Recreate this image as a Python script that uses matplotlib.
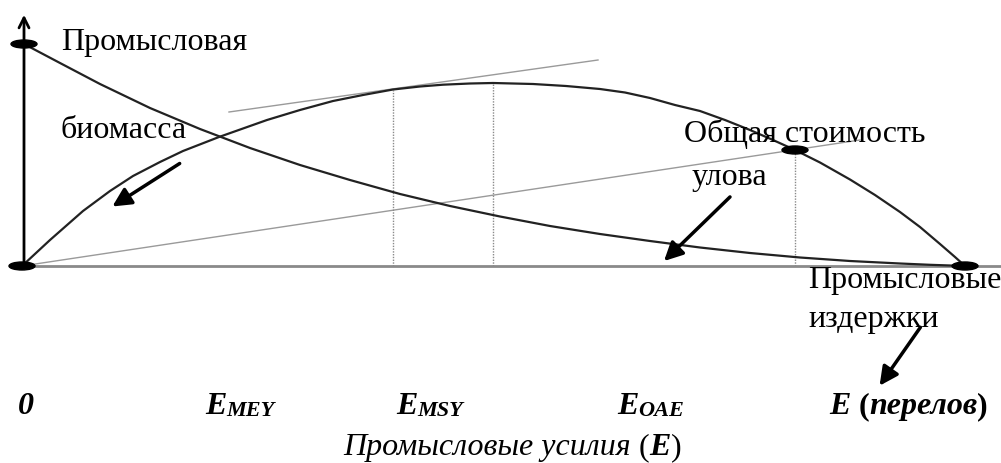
import matplotlib
matplotlib.use("Agg")
import matplotlib.pyplot as plt
from matplotlib.patches import Ellipse

# Serif font close to Times New Roman
SERIF = "Liberation Serif"

# Effort positions and heights (schematic units)
yield_effort = [22, 50, 83, 110, 133, 160, 183, 219, 267, 300, 333, 363, 393, 420, 443, 470, 493,
                533, 566, 600, 625, 650, 675, 700, 725, 750, 773, 795, 820, 850, 875, 900, 920, 940, 955, 965]
yield_value = [0, 26, 55, 75, 90, 104, 115, 129, 146, 156, 165, 171, 176.5, 179.5, 181.3, 182.5, 183,
               182, 180, 177, 173.5, 168, 161, 155, 146, 136, 126, 116, 103.5, 86.5, 71, 54, 39, 22, 9, 0]

biomass_effort = [24, 60, 100, 150, 200, 250, 300, 350, 400, 450, 500, 550, 600, 650, 700, 750, 800, 850, 900, 930, 965]
biomass_value = [222, 203, 182, 158, 137, 118, 101, 86, 72, 60, 49.5, 40, 32, 25, 18.5, 13, 8.5, 5, 2.5, 1.2, 0]

# Total cost line (straight) and the tangent parallel to it at E_MEY
cost_effort = [22, 860]
cost_value = [0, 126]
tangent_effort = [229, 598]
tangent_value = [154, 206]

# Reference effort levels and where they meet the curves
ref_effort = [393, 493, 795]
ref_top = [176.5, 183, 116]

# Black dots on the curves
dot_effort = [24, 22, 795, 965]
dot_value = [222, 0, 116, 0]

# Labels under the axis
tick_x = [18, 205, 396, 617]
tick_main = ["0", "E", "E", "E"]
tick_sub = ["", "MEY", "MSY", "OAE"]

fig = plt.figure(figsize=(10.01, 4.63), dpi=100)
ax = fig.add_axes([0, 0, 1, 1])
ax.set_xlim(0, 1001)
ax.set_ylim(-197, 266)
ax.axis("off")

# horizontal axis (gray) and vertical axis with open arrow
ax.plot([22, 1001], [0, 0], color="#8a8a8a", lw=2, solid_capstyle="butt")
ax.annotate("", xy=(24, 254), xytext=(24, 0),
            arrowprops=dict(arrowstyle="->", lw=2, color="black", mutation_scale=18))

# thin gray lines
ax.plot(cost_effort, cost_value, color="#9a9a9a", lw=1)
ax.plot(tangent_effort, tangent_value, color="#9a9a9a", lw=1)
for x, top in zip(ref_effort, ref_top):
    ax.plot([x, x], [0, top], color="#8a8a8a", lw=1, ls=(0, (1, 1)))

# curves
ax.plot(yield_effort, yield_value, color="#222222", lw=1.6)
ax.plot(biomass_effort, biomass_value, color="#222222", lw=1.6)

for x, y in zip(dot_effort, dot_value):
    ax.add_patch(Ellipse((x, y), 26, 8, color="black", zorder=5))

# labels on the chart
lab = dict(family=SERIF, fontsize=23, va="baseline")
ax.text(61, 216, "Промысловая", **lab)
ax.text(61, 128, "биомасса", **lab)
ax.text(684, 124, "Общая стоимость", **lab)
ax.text(692, 81, "улова", **lab)
ax.text(808, -22, "Промысловые", **lab)
ax.text(808, -61, "издержки", **lab)

# arrows pointing at the curves
arr = dict(arrowstyle="-|>", lw=2.5, color="black", mutation_scale=28)
ax.annotate("", xy=(110, 58), xytext=(182, 104), arrowprops=arr)
ax.annotate("", xy=(662, 3), xytext=(732, 71), arrowprops=arr)
ax.annotate("", xy=(878, -122), xytext=(922, -59), arrowprops=arr)


def chain(x, y, parts, size):
    # write text pieces one after another with their own styles
    prev = None
    for txt, style, weight in parts:
        if prev is None:
            prev = ax.text(x, y, txt, family=SERIF, fontsize=size, style=style,
                           weight=weight, va="baseline")
        else:
            prev = ax.annotate(txt, xy=(1, 0), xycoords=prev, family=SERIF,
                               fontsize=size, style=style, weight=weight, va="bottom")
    return prev


# effort labels
for x, main, sub in zip(tick_x, tick_main, tick_sub):
    t = ax.text(x, -148, main, family=SERIF, fontsize=23, style="italic",
                weight="bold", va="baseline")
    if sub:
        ax.annotate(sub, xy=(1, 0), xycoords=t, family=SERIF, fontsize=16,
                    style="italic", weight="bold", va="bottom")

chain(829, -148, [("E ", "italic", "bold"), ("(", "normal", "bold"),
                  ("перелов", "italic", "bold"), (")", "normal", "bold")], 23)

# axis title
chain(343, -189, [("Промысловые усилия ", "italic", "normal"), ("(", "normal", "normal"),
                  ("E", "italic", "bold"), (")", "normal", "normal")], 23)

fig.savefig("out.png", dpi=100)
